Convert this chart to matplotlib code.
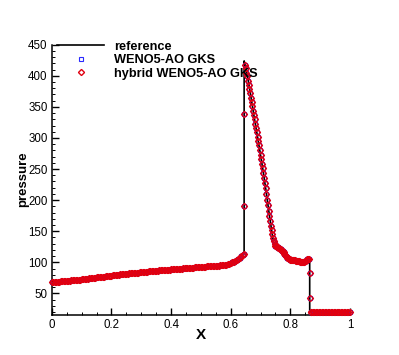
import numpy as np
import matplotlib
matplotlib.use("Agg")
import matplotlib.pyplot as plt
from matplotlib.ticker import MultipleLocator

plt.rcParams["font.family"]=["Liberation Sans","DejaVu Sans"]

# reference solution (black line)
ref_x=[0.0,0.1,0.2,0.3,0.4,0.5,0.56,0.58,0.6,0.62,0.64,0.645,0.6451,0.648,0.655,0.66,0.67,0.68,0.69,0.70,0.71,0.72,0.73,0.74,
       0.745,0.75,0.76,0.77,0.78,0.79,0.80,0.82,0.84,0.855,0.862,0.865,0.8651,1.0]
ref_y=[68.5,72.6,78.6,84.1,88.6,92.6,94.7,95.8,98.5,104.0,111.5,113.5,424,418,403,389,360,330,302,273,243,210,175,143,
       128,126,123,119,113,107,105,103,100,102,106,104,19.5,19.5]

# numerical solutions (both schemes lie on top of each other)
sol_x=[0.000,0.005,0.010,0.015,0.020,0.025,0.030,0.035,0.040,0.045,0.050,0.055,0.060,0.065,0.070,0.075,
       0.080,0.085,0.090,0.095,0.100,0.105,0.110,0.115,0.120,0.125,0.130,0.135,0.140,0.145,0.150,0.155,
       0.160,0.165,0.170,0.175,0.180,0.185,0.190,0.195,0.200,0.205,0.210,0.215,0.220,0.225,0.230,0.235,
       0.240,0.245,0.250,0.255,0.260,0.265,0.270,0.275,0.280,0.285,0.290,0.295,0.300,0.305,0.310,0.315,
       0.320,0.325,0.330,0.335,0.340,0.345,0.350,0.355,0.360,0.365,0.370,0.375,0.380,0.385,0.390,0.395,
       0.400,0.405,0.410,0.415,0.420,0.425,0.430,0.435,0.440,0.445,0.450,0.455,0.460,0.465,0.470,0.475,
       0.480,0.485,0.490,0.495,0.500,0.505,0.510,0.515,0.520,0.525,0.530,0.535,0.540,0.545,0.550,0.555,
       0.560,0.565,0.570,0.575,0.580,0.585,0.590,0.595,0.600,0.605,0.610,0.615,0.620,0.625,0.630,0.635,
       0.640,0.643,0.644,0.645,0.6475,
       0.65,0.6525,0.655,0.6575,0.66,0.6625,0.665,0.6675,0.67,0.6725,0.675,0.6775,0.68,0.6825,0.685,0.6875,
       0.69,0.6925,0.695,0.6975,0.70,0.7025,0.705,0.7075,0.71,0.7125,0.715,0.7175,0.72,0.7225,0.725,0.7275,
       0.73,0.7325,0.735,0.7375,0.74,0.7425,0.745,0.7475,0.75,
       0.7525,0.755,0.7575,0.76,0.7625,0.765,0.7675,0.77,0.7725,0.775,0.7775,0.78,0.7825,0.785,0.7875,0.79,
       0.7925,0.795,0.7975,0.80,0.8025,0.805,0.8075,0.81,0.8125,0.815,0.8175,0.82,0.8225,0.825,0.8275,0.83,
       0.8325,0.835,0.8375,0.84,0.8425,0.845,0.8475,0.85,0.8525,0.855,0.8575,0.86,0.8625,
       0.865,0.8665,0.868,
       0.870,0.875,0.880,0.885,0.890,0.895,0.900,0.905,0.910,0.915,0.920,0.925,0.930,0.935,0.940,0.945,
       0.950,0.955,0.960,0.965,0.970,0.975,0.980,0.985,0.990,0.995,1.000]
sol_y=[68.5,68.6,68.7,68.8,69.0,69.1,69.3,69.5,69.7,69.9,70.1,70.3,70.6,70.8,71.1,71.3,
       71.6,71.8,72.1,72.3,72.6,72.9,73.2,73.5,73.8,74.1,74.4,74.7,75.0,75.3,75.6,75.9,
       76.2,76.5,76.8,77.1,77.4,77.7,78.0,78.3,78.6,78.9,79.2,79.5,79.8,80.1,80.4,80.7,
       81.0,81.2,81.5,81.8,82.1,82.3,82.6,82.8,83.1,83.3,83.6,83.8,84.1,84.3,84.6,84.8,
       85.1,85.3,85.6,85.8,86.1,86.3,86.6,86.8,87.0,87.2,87.4,87.6,87.8,88.0,88.2,88.4,
       88.6,88.8,89.0,89.2,89.4,89.6,89.8,90.0,90.2,90.4,90.6,90.8,91.0,91.2,91.4,91.6,
       91.8,92.0,92.2,92.4,92.6,92.8,93.0,93.1,93.3,93.4,93.6,93.8,94.0,94.1,94.3,94.5,
       94.7,94.9,95.2,95.5,95.8,96.2,96.8,97.5,98.5,99.7,101.0,102.5,104.0,105.7,107.5,109.5,
       111.5,113.5,190,338,418,
       412,405,399,392,386,379,372,365,358,351,344,337,330,323,316,309,
       302,295,288,280,273,266,258,251,243,235,227,219,210,201,192,183,
       175,167,159,152,145,139,134,130,127,
       126,125,124.2,123.5,122.8,122,121,120,118.8,117.5,116,114,112,110,108.5,107,
       106.2,105.5,105,104.5,104.2,104,103.8,103.5,103.2,103,102.8,102.5,102.2,102,101.8,101.5,
       101.2,101,100.8,100.5,100.4,100.5,100.9,101.5,102.4,103.5,104.8,106,105.5,
       83,43,19.5,
       19.5,19.5,19.5,19.5,19.5,19.5,19.5,19.5,19.5,19.5,19.5,19.5,19.5,19.5,19.5,19.5,
       19.5,19.5,19.5,19.5,19.5,19.5,19.5,19.5,19.5,19.5,19.5]

fig=plt.figure(figsize=(3.99,3.55),dpi=100,facecolor="white")
ax=fig.add_axes([0.130,0.114,0.747,0.760])

ax.plot(ref_x,ref_y,color="black",lw=1.2,label="reference",zorder=2)
ax.plot(sol_x,sol_y,ls="none",marker="s",ms=2.8,mfc="none",mec="#2a2aff",mew=0.8,label="WENO5-AO GKS",zorder=3,clip_on=False)
ax.plot(sol_x,sol_y,ls="none",marker="D",ms=3.1,mfc="none",mec="#e00010",mew=1.0,label="hybrid WENO5-AO GKS",zorder=4,clip_on=False)

ax.set_xlim(0,1)
ax.set_ylim(16,450)
ax.xaxis.set_major_locator(MultipleLocator(0.2))
ax.xaxis.set_minor_locator(MultipleLocator(0.05))
ax.yaxis.set_major_locator(MultipleLocator(50))
ax.yaxis.set_minor_locator(MultipleLocator(10))
ax.set_xticks([0,0.2,0.4,0.6,0.8,1.0])
ax.set_xticklabels(["0","0.2","0.4","0.6","0.8","1"])
ax.tick_params(which="major",direction="in",length=5,width=1,labelsize=8.3,pad=3)
ax.tick_params(which="minor",direction="in",length=2.5,width=0.7)
ax.spines[["top","right"]].set_visible(False)
ax.spines[["left","bottom"]].set_linewidth(1.1)

ax.set_xlabel("X",fontsize=11,fontweight="bold",labelpad=-2)
ax.set_ylabel("pressure",fontsize=9.5,fontweight="bold",labelpad=-1)

leg=ax.legend(loc="upper left",bbox_to_anchor=(0.13,0.9),bbox_transform=fig.transFigure,frameon=False,
              prop={"size":9.2,"weight":"bold"},handlelength=3.7,handletextpad=0.8,labelspacing=0.12,borderaxespad=0)

fig.savefig("out.png",dpi=100,facecolor="white")
